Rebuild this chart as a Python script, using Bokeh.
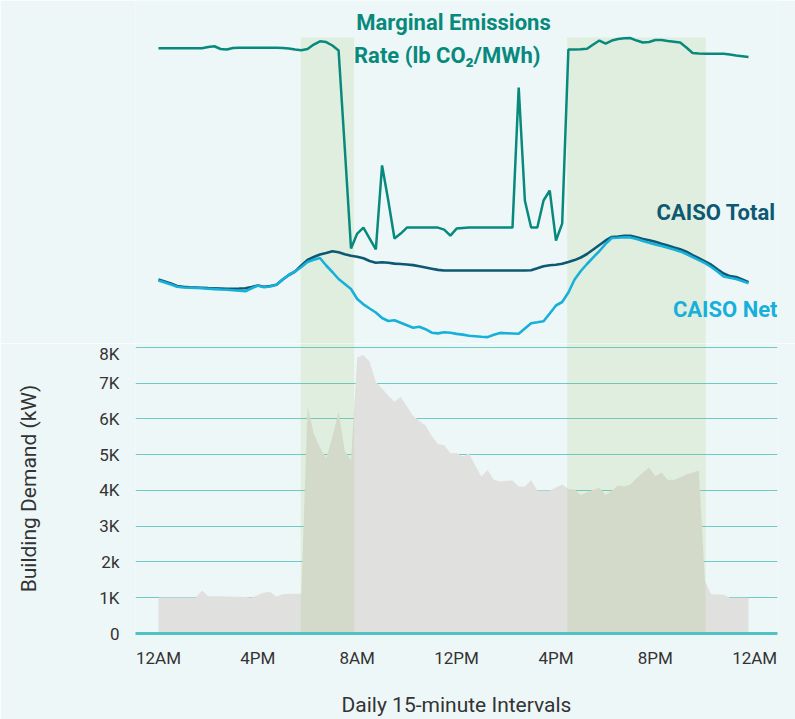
from bokeh.plotting import figure
from bokeh.models import Range1d, FixedTicker, Label
from bokeh.layouts import column
from bokeh.embed import file_html
from bokeh.resources import INLINE

# ---------------- data ----------------
intervals = list(range(96))  # daily 15-minute intervals

building_demand_kw = [
    1010, 1010, 1010, 1010, 1010, 1010, 1010, 1200, 1040, 1040, 1040, 1035,
    1030, 1030, 1020, 1010, 1080, 1150, 1160, 1030, 1100, 1110, 1110, 1110,
    6350, 5600, 5200, 4900, 5500, 6200, 5100, 4850, 7720, 7790, 7600, 7030,
    6850, 6650, 6480, 6620, 6350, 6080, 5950, 5820, 5520, 5300, 5270, 5040,
    5050, 4950, 5040, 4700, 4390, 4570, 4300, 4250, 4270, 4280, 4110, 4110,
    4290, 4000, 4000, 4000, 4080, 4170, 4040, 4030, 3870, 3950, 4020, 4070,
    3870, 4000, 4140, 4110, 4170, 4350, 4500, 4640, 4400, 4500, 4300, 4290,
    4370, 4450, 4500, 4560, 1460, 1100, 1090, 1090, 1000, 1000, 1000, 1000,
]

marginal_emissions = [  # lb CO2 / MWh
    993, 993, 993, 993, 993, 993, 993, 993, 998, 1001, 990, 988,
    994, 995, 995, 995, 995, 995, 995, 995, 994, 992, 988, 985,
    990, 1008, 1021, 1018, 1004, 984, 590, 188, 248, 272, 228, 184,
    522, 381, 228, 248, 272, 272, 272, 272, 272, 272, 264, 240,
    268, 270, 272, 272, 272, 272, 272, 272, 272, 272, 835, 380,
    272, 272, 381, 421, 220, 288, 988, 988, 989, 991, 1008, 1024,
    1012, 1024, 1030, 1033, 1034, 1024, 1016, 1018, 1026, 1026, 1022, 1019,
    1016, 996, 974, 972, 971, 971, 971, 971, 968, 964, 961, 958,
]

caiso_total_mw = [
    25700, 25500, 25300, 25050, 24980, 24930, 24900, 24870, 24840, 24820, 24800, 24770,
    24780, 24800, 24830, 24950, 25100, 24970, 25050, 25170, 25700, 26150, 26500, 27100,
    27650, 27950, 28200, 28350, 28520, 28420, 28230, 28080, 27980, 27820, 27550, 27380,
    27420, 27370, 27290, 27250, 27200, 27140, 27020, 26900, 26780, 26660, 26600, 26600,
    26600, 26600, 26600, 26600, 26600, 26600, 26600, 26600, 26600, 26600, 26600, 26600,
    26630, 26820, 27020, 27120, 27170, 27270, 27450, 27640, 27900, 28250, 28700, 29150,
    29600, 29950, 30000, 30060, 30080, 29930, 29760, 29620, 29470, 29280, 29100, 28910,
    28730, 28480, 28140, 27830, 27510, 27180, 26720, 26300, 26040, 25950, 25700, 25430,
]

caiso_net_mw = [
    25600, 25400, 25200, 24980, 24900, 24870, 24850, 24820, 24780, 24740, 24700, 24670,
    24630, 24580, 24530, 24820, 25100, 24920, 25000, 25170, 25700, 26150, 26500, 26950,
    27450, 27680, 27850, 27100, 26450, 25750, 25250, 24750, 23750, 23220, 22800, 22400,
    21850, 21550, 21630, 21370, 21120, 20870, 20970, 20730, 20380, 20310, 20430, 20370,
    20260, 20190, 20080, 20030, 19980, 19940, 20170, 20360, 20330, 20300, 20270, 20800,
    21320, 21420, 21530, 22300, 23100, 23450, 24400, 25700, 26550, 27250, 27920, 28550,
    29270, 29850, 29880, 29920, 29910, 29740, 29550, 29380, 29210, 29040, 28870, 28700,
    28510, 28250, 27940, 27630, 27330, 26950, 26500, 26000, 25880, 25750, 25540, 25330,
]

peak_window_start = [22.9, 65.8]
peak_window_end = [31.5, 88.1]

x_tick_positions = [0, 16, 32, 48, 64, 80, 96]
x_tick_labels = ["12AM", "4PM", "8AM", "12PM", "4PM", "8PM", "12AM"]
y_tick_positions = [0, 1000, 2000, 3000, 4000, 5000, 6000, 7000, 8000]
y_tick_labels = ["0", "1K", "2k", "3K", "4K", "5K", "6K", "7K", "8K"]

# ---------------- style ----------------
BG = "#eef7f7"
FONT = "Roboto"
TEAL = "#08897d"
DARK = "#0d5872"
CYAN = "#17b0da"
GRID = "#6ccbc8"
AXIS = "#50c4c4"
AREA = "#e0e0df"
BAND = "#96b95a"
BAND_ALPHA = 0.15
TXT = "#333333"

W = 795
xr = Range1d(-3.70, 99.67)

# ---------------- top panel: emissions + CAISO ----------------
top = figure(width=W, height=343, x_range=xr, y_range=Range1d(-194, 1185),
             output_backend="svg", toolbar_location=None,
             x_axis_location=None, y_axis_location=None,
             min_border_left=135, min_border_right=18,
             min_border_top=0, min_border_bottom=0)
top.extra_y_ranges = {"caiso": Range1d(19300, 53600)}
top.grid.visible = False
top.outline_line_color = None
top.background_fill_color = BG
top.border_fill_color = BG

top.quad(left=peak_window_start, right=peak_window_end, bottom=-1000, top=1036,
         fill_color=BAND, fill_alpha=BAND_ALPHA, line_color=None)
top.line(intervals, caiso_total_mw, y_range_name="caiso", line_color=DARK, line_width=2.6)
top.line(intervals, caiso_net_mw, y_range_name="caiso", line_color=CYAN, line_width=2.6)
top.line(intervals, marginal_emissions, line_color=TEAL, line_width=2.5)


def add_label(fig, **kw):
    fig.add_layout(Label(text_baseline="middle", text_font=FONT, text_font_style="bold",
                         text_font_size="22px", **kw))


add_label(top, x=47.5, y=1096, text="Marginal Emissions", text_align="center", text_color=TEAL)
add_label(top, x=46.5, y=964, text="Rate (lb CO\u2082/MWh)", text_align="center", text_color=TEAL)
add_label(top, x=99.36, y=32400, y_range_name="caiso", text="CAISO Total",
          text_align="right", text_color=DARK)
add_label(top, x=99.68, y=22700, y_range_name="caiso", text="CAISO Net",
          text_align="right", text_color=CYAN)

# ---------------- bottom panel: building demand ----------------
bot = figure(width=W, height=376, x_range=xr, y_range=Range1d(0, 8110),
             output_backend="svg", toolbar_location=None,
             min_border_left=135, min_border_right=18,
             min_border_top=0, min_border_bottom=85)
bot.outline_line_color = None
bot.background_fill_color = BG
bot.border_fill_color = BG
bot.xgrid.visible = False
bot.ygrid.ticker = FixedTicker(ticks=y_tick_positions[1:])
bot.ygrid.grid_line_color = GRID
bot.ygrid.grid_line_width = 1.2

bot.varea(x=intervals, y1=0, y2=building_demand_kw, fill_color=AREA)
bot.quad(left=peak_window_start, right=peak_window_end, bottom=-100, top=9000,
         fill_color=BAND, fill_alpha=BAND_ALPHA, line_color=None)

xa = bot.xaxis[0]
xa.ticker = FixedTicker(ticks=x_tick_positions)
xa.major_label_overrides = {t: l for t, l in zip(x_tick_positions, x_tick_labels)}
xa.axis_label = "Daily 15-minute Intervals"
xa.axis_line_color = AXIS
xa.axis_line_width = 3
xa.major_tick_line_color = None
xa.minor_tick_line_color = None
xa.major_tick_out = 0
xa.major_label_standoff = 14
xa.axis_label_standoff = 22
xa.major_label_text_font = FONT
xa.major_label_text_font_size = "17px"
xa.major_label_text_color = TXT
xa.axis_label_text_font = FONT
xa.axis_label_text_font_size = "21px"
xa.axis_label_text_font_style = "normal"
xa.axis_label_text_color = TXT

ya = bot.yaxis[0]
ya.ticker = FixedTicker(ticks=y_tick_positions)
ya.major_label_overrides = {t: l for t, l in zip(y_tick_positions, y_tick_labels)}
ya.axis_label = "Building Demand (kW)"
ya.axis_line_color = None
ya.major_tick_line_color = None
ya.minor_tick_line_color = None
ya.major_tick_out = 0
ya.major_label_standoff = 16
ya.axis_label_standoff = 55
ya.major_label_text_font = FONT
ya.major_label_text_font_size = "17px"
ya.major_label_text_color = TXT
ya.axis_label_text_font = FONT
ya.axis_label_text_font_size = "21px"
ya.axis_label_text_font_style = "normal"
ya.axis_label_text_color = TXT

layout = column(top, bot, spacing=0)

html = file_html(layout, INLINE)
html = html.replace("<body>", '<body style="background-color:%s;">' % BG, 1)
with open("out.html", "w") as f:
    f.write(html)
